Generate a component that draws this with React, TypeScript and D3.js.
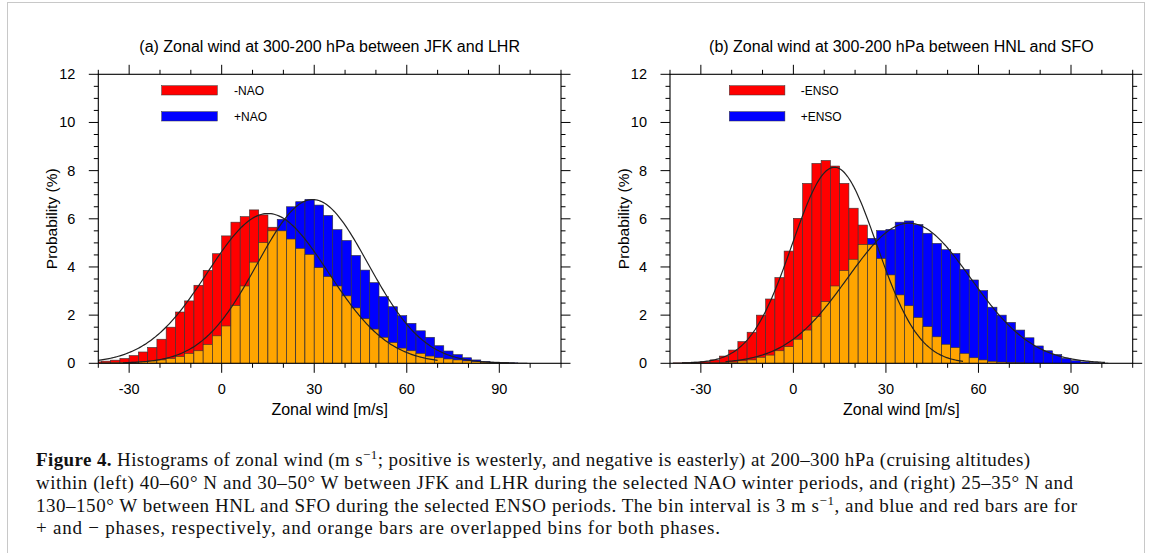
import React from "react";
import * as d3 from "d3";

// ---------- DATA ----------
const BIN_STARTS = [-42, -39, -36, -33, -30, -27, -24, -21, -18, -15, -12, -9, -6, -3, 0, 3, 6, 9, 12, 15, 18, 21, 24, 27, 30, 33, 36, 39, 42, 45, 48, 51, 54, 57, 60, 63, 66, 69, 72, 75, 78, 81, 84, 87, 90, 93, 96, 99];
const BIN_WIDTH = 3;

const NAO_MINUS = [0.06, 0.09, 0.13, 0.2, 0.32, 0.47, 0.66, 1.0, 1.5, 2.13, 2.59, 3.24, 3.86, 4.55, 5.29, 5.86, 6.09, 6.37, 6.16, 5.65, 5.5, 5.16, 4.77, 4.52, 3.97, 3.6, 3.21, 2.8, 2.3, 1.85, 1.42, 1.08, 0.86, 0.63, 0.52, 0.41, 0.3, 0.23, 0.18, 0.14, 0.1, 0.07, 0.05, 0.03, 0.02, 0, 0, 0];
const NAO_PLUS = [0, 0.02, 0.03, 0.04, 0.05, 0.07, 0.1, 0.14, 0.2, 0.28, 0.41, 0.52, 0.78, 1.14, 1.55, 2.4, 3.21, 4.2, 5.01, 5.5, 5.98, 6.5, 6.71, 6.81, 6.57, 6.14, 5.55, 5.1, 4.48, 3.87, 3.35, 2.77, 2.35, 1.98, 1.66, 1.35, 1.08, 0.73, 0.51, 0.36, 0.23, 0.14, 0.08, 0.05, 0.03, 0.02, 0.01, 0];
const ENSO_MINUS = [0, 0.02, 0.03, 0.05, 0.07, 0.14, 0.3, 0.55, 0.9, 1.29, 2.0, 2.67, 3.56, 4.66, 6.02, 7.47, 8.3, 8.42, 8.19, 7.47, 6.44, 5.74, 4.93, 4.35, 3.67, 2.84, 2.39, 1.9, 1.52, 1.1, 0.79, 0.65, 0.41, 0.23, 0.14, 0.08, 0.05, 0.03, 0.02, 0, 0, 0, 0, 0, 0, 0, 0, 0];
const ENSO_PLUS = [0, 0, 0, 0.01, 0.01, 0.02, 0.03, 0.05, 0.1, 0.14, 0.25, 0.34, 0.52, 0.69, 1.0, 1.38, 1.94, 2.56, 3.21, 3.85, 4.32, 4.93, 5.19, 5.51, 5.56, 5.86, 5.91, 5.76, 5.4, 4.98, 4.72, 4.56, 3.9, 3.46, 3.02, 2.33, 2.0, 1.7, 1.38, 1.06, 0.72, 0.52, 0.36, 0.21, 0.11, 0.06, 0.03, 0.01];

// fitted normal curves: [peak, mean, sd, from, to]
const NAO_MINUS_FIT = [6.22, 15, 19.6, -45, 70];
const NAO_PLUS_FIT = [6.8, 29.5, 18, -32, 95];
const ENSO_MINUS_FIT = [8.14, 13.3, 13.7, -36, 55];
const ENSO_PLUS_FIT = [5.82, 37.5, 20, -22, 101];

const X_DOMAIN = [-40, 110];
const Y_DOMAIN = [0, 12];
const X_MAJOR = [-30, 0, 30, 60, 90];
const X_MINOR = [-40, -20, -10, 10, 20, 40, 50, 70, 80, 100, 110];
const Y_MAJOR = [0, 2, 4, 6, 8, 10, 12];
const Y_MINOR = [0.5, 1, 1.5, 2.5, 3, 3.5, 4.5, 5, 5.5, 6.5, 7, 7.5, 8.5, 9, 9.5, 10.5, 11, 11.5];

const TITLES = [
  "(a) Zonal wind at 300-200 hPa between JFK and LHR",
  "(b) Zonal wind at 300-200 hPa between HNL and SFO",
];
const LEGENDS = [
  ["-NAO", "+NAO"],
  ["-ENSO", "+ENSO"],
];
const X_TITLE = "Zonal wind [m/s]";
const Y_TITLE = "Probability (%)";

// ---------- LAYOUT ----------
const W = 1153;
const H = 553;
const TOP = 74.3;
const BOTTOM = 363.3;
const PANELS = [
  { left: 98.3, right: 561, legRect: 63.4, legText: 135.7, minus: NAO_MINUS, plus: NAO_PLUS, fitM: NAO_MINUS_FIT, fitP: NAO_PLUS_FIT },
  { left: 670, right: 1132.7, legRect: 59.3, legText: 130.7, minus: ENSO_MINUS, plus: ENSO_PLUS, fitM: ENSO_MINUS_FIT, fitP: ENSO_PLUS_FIT },
];
const RED = "#ff0000";
const BLUE = "#0000ff";
const ORANGE = "#ffa500";
const SANS = "'Liberation Sans', Arial, Helvetica, sans-serif";
const SERIF = "'Liberation Serif', 'Times New Roman', serif";

function Panel({ p, idx }: { p: any; idx: number }) {
  const x = d3.scaleLinear().domain(X_DOMAIN).range([p.left, p.right]);
  const y = d3.scaleLinear().domain(Y_DOMAIN).range([BOTTOM, TOP]);
  const clipId = `clip${idx}`;
  const curve = (fit: number[]) => {
    const [peak, mean, sd, from, to] = fit;
    const pts = d3.range(from, to + 0.001, 0.5).map((v) => [v, peak * Math.exp(-0.5 * ((v - mean) / sd) ** 2)]);
    return d3.line<number[]>().x((d) => x(d[0])).y((d) => y(d[1]))(pts) as string;
  };
  const bars: any[] = [];
  BIN_STARTS.forEach((b, i) => {
    const m = p.minus[i];
    const pl = p.plus[i];
    const hi = Math.max(m, pl);
    const lo = Math.min(m, pl);
    const x0 = x(b);
    const w = x(b + BIN_WIDTH) - x0;
    if (hi > 0)
      bars.push(
        <rect key={`h${i}`} x={x0} y={y(hi)} width={w} height={y(0) - y(hi)} fill={m >= pl ? RED : BLUE} stroke="#333" strokeWidth={0.6} />
      );
    if (lo > 0)
      bars.push(
        <rect key={`l${i}`} x={x0} y={y(lo)} width={w} height={y(0) - y(lo)} fill={ORANGE} stroke="#333" strokeWidth={0.6} />
      );
  });
  const cx = (p.left + p.right) / 2;
  const tick = { stroke: "#000", strokeWidth: 1 };
  return (
    <g>
      <defs>
        <clipPath id={clipId}>
          <rect x={p.left} y={TOP} width={p.right - p.left} height={BOTTOM - TOP} />
        </clipPath>
      </defs>
      <text x={cx} y={52} textAnchor="middle" fontFamily={SANS} fontSize={16} fill="#000">
        {TITLES[idx]}
      </text>
      <g clipPath={`url(#${clipId})`}>
        {bars}
        <path d={curve(p.fitM)} fill="none" stroke="#222" strokeWidth={1.2} />
        <path d={curve(p.fitP)} fill="none" stroke="#222" strokeWidth={1.2} />
      </g>
      {/* legend */}
      <rect x={p.left + p.legRect} y={TOP + 11.4} width={55.6} height={9.3} fill={RED} stroke="#333" strokeWidth={0.5} />
      <rect x={p.left + p.legRect} y={TOP + 37.4} width={55.6} height={9.3} fill={BLUE} stroke="#333" strokeWidth={0.5} />
      <text x={p.left + p.legText} y={TOP + 16.2} dominantBaseline="central" fontFamily={SANS} fontSize={12}>{LEGENDS[idx][0]}</text>
      <text x={p.left + p.legText} y={TOP + 42.2} dominantBaseline="central" fontFamily={SANS} fontSize={12}>{LEGENDS[idx][1]}</text>
      {/* frame */}
      <rect x={p.left} y={TOP} width={p.right - p.left} height={BOTTOM - TOP} fill="none" stroke="#000" strokeWidth={1.1} />
      {/* x ticks */}
      {X_MAJOR.map((v) => (
        <g key={`xm${v}`}>
          <line x1={x(v)} x2={x(v)} y1={BOTTOM} y2={BOTTOM + 9.5} {...tick} />
          <line x1={x(v)} x2={x(v)} y1={TOP} y2={TOP - 9.5} {...tick} />
          <text x={x(v)} y={394} textAnchor="middle" fontFamily={SANS} fontSize={14.5}>{v}</text>
        </g>
      ))}
      {X_MINOR.map((v) => (
        <g key={`xn${v}`}>
          <line x1={x(v)} x2={x(v)} y1={BOTTOM} y2={BOTTOM + 4.5} {...tick} />
          <line x1={x(v)} x2={x(v)} y1={TOP} y2={TOP - 4.5} {...tick} />
        </g>
      ))}
      {Y_MAJOR.map((v) => (
        <g key={`ym${v}`}>
          <line x1={p.left} x2={p.left - 9.5} y1={y(v)} y2={y(v)} {...tick} />
          <line x1={p.right} x2={p.right + 9.5} y1={y(v)} y2={y(v)} {...tick} />
          <text x={p.left - 23} y={y(v)} textAnchor="end" dominantBaseline="central" fontFamily={SANS} fontSize={14.5}>{v}</text>
        </g>
      ))}
      {Y_MINOR.map((v) => (
        <g key={`yn${v}`}>
          <line x1={p.left} x2={p.left - 4.5} y1={y(v)} y2={y(v)} {...tick} />
          <line x1={p.right} x2={p.right + 4.5} y1={y(v)} y2={y(v)} {...tick} />
        </g>
      ))}
      <text x={cx} y={415} textAnchor="middle" fontFamily={SANS} fontSize={16}>{X_TITLE}</text>
      <text
        transform={`translate(${p.left - 47},${(TOP + BOTTOM) / 2}) rotate(-90)`}
        textAnchor="middle"
        dominantBaseline="central"
        fontFamily={SANS}
        fontSize={15.5}
      >
        {Y_TITLE}
      </text>
    </g>
  );
}

export default function App() {
  const capX = 36;
  const capSize = 19;
  return (
    <svg width={W} height={H} style={{ position: "absolute", left: 0, top: 0, background: "#fff" }}>
      <rect x={0} y={0} width={W} height={H} fill="#fff" />
      <rect x={7.5} y={2.5} width={1137} height={600} fill="none" stroke="#c8c8c8" strokeWidth={1} />
      {PANELS.map((p, i) => (
        <Panel key={i} p={p} idx={i} />
      ))}
      <g fontFamily={SERIF} fontSize={capSize} fill="#111">
        <text x={capX} y={466} textLength={994} lengthAdjust="spacing">
          <tspan fontWeight="bold">Figure 4.</tspan>
          <tspan> Histograms of zonal wind (m s</tspan>
          <tspan dy={-7} fontSize={13}>−1</tspan>
          <tspan dy={7}>; positive is westerly, and negative is easterly) at 200–300 hPa (cruising altitudes)</tspan>
        </text>
        <text x={capX} y={489} textLength={1037} lengthAdjust="spacing">
          within (left) 40–60° N and 30–50° W between JFK and LHR during the selected NAO winter periods, and (right) 25–35° N and
        </text>
        <text x={capX} y={511.5} textLength={1041} lengthAdjust="spacing">
          <tspan>130–150° W between HNL and SFO during the selected ENSO periods. The bin interval is 3 m s</tspan>
          <tspan dy={-7} fontSize={13}>−1</tspan>
          <tspan dy={7}>, and blue and red bars are for</tspan>
        </text>
        <text x={capX} y={534} textLength={684} lengthAdjust="spacing">
          + and − phases, respectively, and orange bars are overlapped bins for both phases.
        </text>
      </g>
    </svg>
  );
}
